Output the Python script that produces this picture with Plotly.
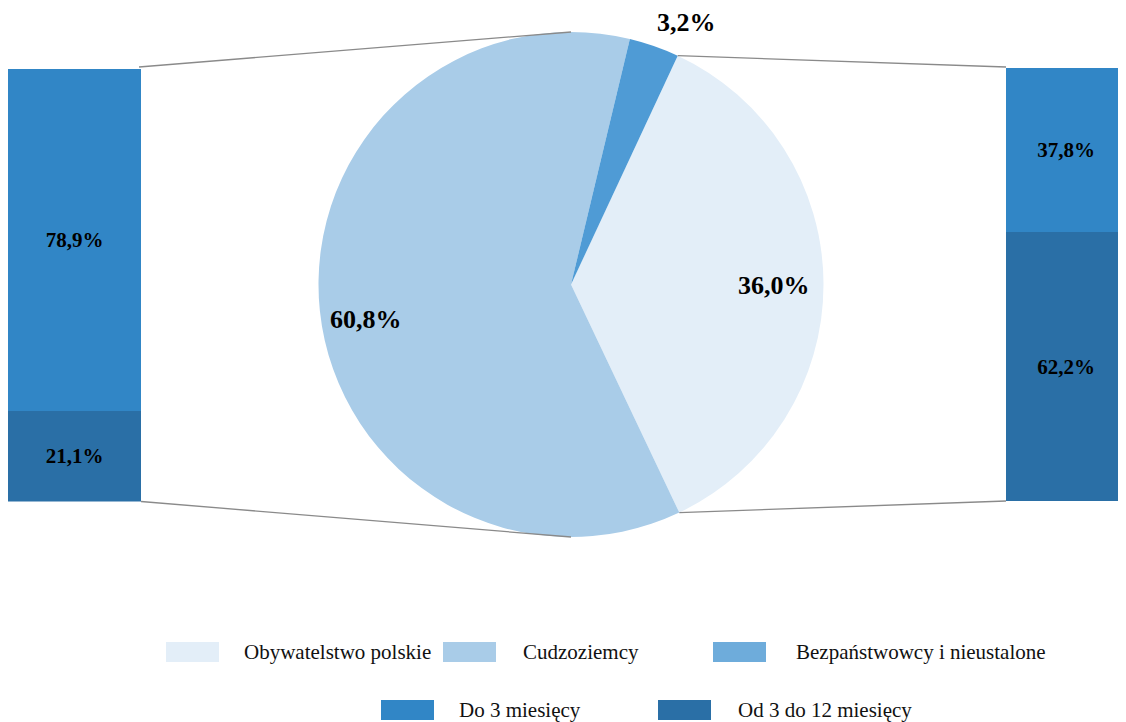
import math
import plotly.graph_objects as go

# page body has an 8px margin, so the figure is drawn 8px smaller and mapped with an offset
OFF = 8
W, H = 1126 - OFF, 722 - OFF

# ---- data ----
pie_labels = ["Obywatelstwo polskie", "Cudzoziemcy", "Bezpaństwowcy i nieustalone"]
pie_values = [36.0, 60.8, 3.2]
pie_colors = ["#E3EEF8", "#A9CCE8", "#4F9BD5"]
pie_legend_colors = ["#E3EEF8", "#A9CCE8", "#6EACDB"]

bar_labels = ["Do 3 miesięcy", "Od 3 do 12 miesięcy"]
left_values = [78.9, 21.1]    # breakdown of Cudzoziemcy
right_values = [37.8, 62.2]   # breakdown of Obywatelstwo polskie
bar_colors = ["#3186C6", "#2A6FA6"]

FONT = "Liberation Serif, Times New Roman, serif"


def fmt(v):
    return f"{v:.1f}".replace(".", ",") + "%"


def px(x):
    return (x - OFF) / W


def py(y):
    return 1 - (y - OFF) / H


# ---- geometry (screen pixels) ----
cx, cy, R = 571, 284.5, 252.5
rotation = 25
left_bar = (8, 141, 68.5, 501.5)
right_bar = (1006, 1126, 68, 501)

fig = go.Figure()

fig.add_trace(go.Pie(
    labels=pie_labels, values=pie_values,
    marker=dict(colors=pie_colors, line=dict(width=0)),
    sort=False, direction="clockwise", rotation=rotation,
    textinfo="none", hoverinfo="label+percent", showlegend=False,
    domain=dict(x=[px(cx - R), px(cx + R)], y=[py(cy + R), py(cy - R)]),
))

# stacked bars: bottom segment first
for axis_idx, vals in [(1, left_values), (2, right_values)]:
    xa = "x" if axis_idx == 1 else "x2"
    ya = "y" if axis_idx == 1 else "y2"
    for i in [1, 0]:
        fig.add_trace(go.Bar(
            x=[0], y=[vals[i]], width=[1],
            marker=dict(color=bar_colors[i], line=dict(width=0)),
            text=[fmt(vals[i])], textposition="inside", insidetextanchor="middle",
            textfont=dict(family=FONT, size=21, color="black", weight="bold"),
            constraintext="none", showlegend=False, name=bar_labels[i],
            xaxis=xa, yaxis=ya,
        ))

lb, rb = left_bar, right_bar
fig.update_layout(
    width=W, height=H, margin=dict(l=0, r=0, t=0, b=0),
    paper_bgcolor="white", plot_bgcolor="rgba(0,0,0,0)",
    barmode="stack", bargap=0,
    xaxis=dict(domain=[max(0, px(lb[0])), px(lb[1])], range=[-0.5, 0.5], visible=False, fixedrange=True),
    yaxis=dict(domain=[py(lb[3]), py(lb[2])], range=[0, 100], visible=False, fixedrange=True),
    xaxis2=dict(domain=[px(rb[0]), min(1, px(rb[1]))], range=[-0.5, 0.5], visible=False, anchor="y2"),
    yaxis2=dict(domain=[py(rb[3]), py(rb[2])], range=[0, 100], visible=False, anchor="x2"),
    showlegend=False,
)


def pie_point(angle_deg):
    a = math.radians(angle_deg)
    return cx + R * math.sin(a), cy - R * math.cos(a)


# connector lines
shapes = []
line_style = dict(color="#8A8A8A", width=1.3)
obyw_start = rotation
obyw_end = rotation + pie_values[0] / sum(pie_values) * 360
conns = [
    ((lb[1] - 2, lb[2] - 1.5), pie_point(0)),
    ((lb[1], lb[3]), pie_point(180)),
    ((rb[0], rb[2] - 1), pie_point(obyw_start)),
    ((rb[0], rb[3]), pie_point(obyw_end)),
]
for (xa_, ya_), (xb_, yb_) in conns:
    shapes.append(dict(type="line", xref="paper", yref="paper",
                       x0=px(xa_), y0=py(ya_), x1=px(xb_), y1=py(yb_), line=line_style))

# manual legend
annotations = []
legend_items = [
    (pie_labels[0], pie_legend_colors[0], 166, 242, 652),
    (pie_labels[1], pie_legend_colors[1], 443, 521, 652),
    (pie_labels[2], pie_legend_colors[2], 713, 794, 652),
    (bar_labels[0], bar_colors[0], 381, 457, 710),
    (bar_labels[1], bar_colors[1], 658, 736, 710),
]
for name, col, sx, tx, ymid in legend_items:
    shapes.append(dict(type="rect", xref="paper", yref="paper",
                       x0=px(sx), x1=px(sx + 53), y0=py(ymid + 10), y1=py(ymid - 10),
                       fillcolor=col, line=dict(width=0)))
    annotations.append(dict(x=px(tx), y=py(ymid), xref="paper", yref="paper",
                            text=name, showarrow=False, xanchor="left", yanchor="middle",
                            font=dict(family=FONT, size=21, color="#111111")))

# pie value labels
pie_label_pos = [(774, 286), (366, 319), (686, 22)]
for v, (lx, ly) in zip(pie_values, pie_label_pos):
    annotations.append(dict(x=px(lx), y=py(ly), xref="paper", yref="paper",
                            text=f"<b>{fmt(v)}</b>", showarrow=False,
                            xanchor="center", yanchor="middle",
                            font=dict(family=FONT, size=26, color="black")))

fig.update_layout(shapes=shapes, annotations=annotations)
fig.write_html("out.html")
